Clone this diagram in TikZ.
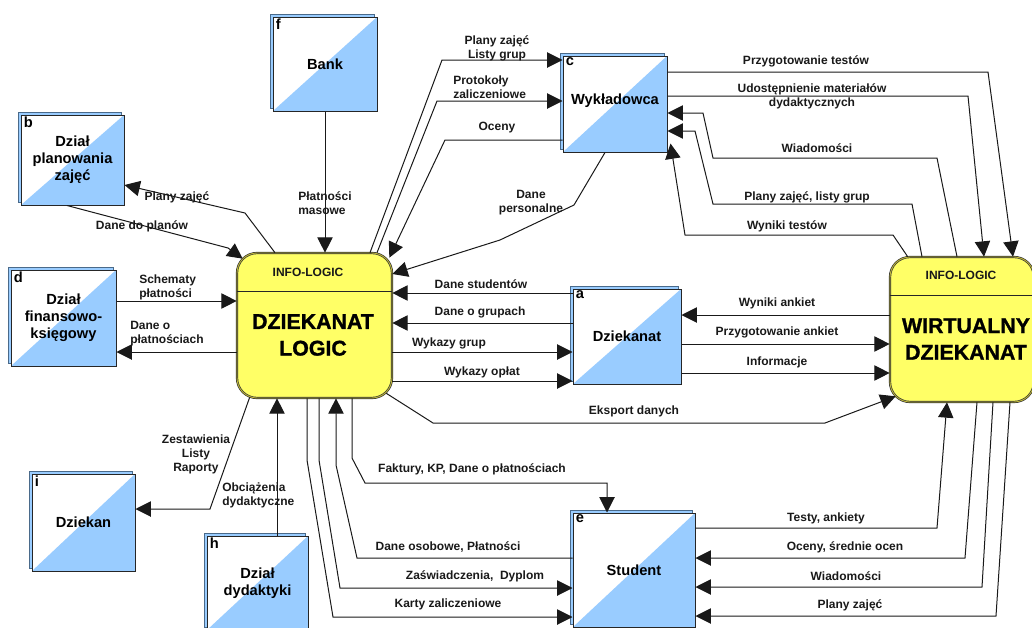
\documentclass[tikz,border=0pt]{standalone}
\usepackage{fontspec}
\setmainfont{Liberation Sans}
\newfontfamily\heavyfont[FakeBold=1.2]{Liberation Sans}
\usetikzlibrary{arrows.meta,calc}
\definecolor{entblue}{HTML}{99CCFF}
\definecolor{procyellow}{HTML}{FFFF66}
\definecolor{backline}{HTML}{4A6A8A}
\tikzset{
  lbl/.style={font=\fontsize{9}{10.5}\selectfont\bfseries, inner sep=0pt, align=center, text=black!90},
  lbll/.style={lbl, align=left, anchor=west},
  flow/.style={draw=black!90, line width=0.75pt, -{Triangle[length=11.5pt,width=11.5pt]}},
  ent/.style={fill=white, draw=black!85, line width=0.75pt, inner sep=0pt,
    font=\fontsize{11}{12.75}\selectfont\bfseries, align=center,
    path picture={\fill[entblue] (path picture bounding box.north east) -- (path picture bounding box.south east) -- (path picture bounding box.south west) -- cycle;}},
  backrect/.style={fill=entblue, draw=backline, line width=0.75pt},
  letterlbl/.style={font=\fontsize{11}{12}\selectfont\bfseries, inner sep=0pt, anchor=north west},
  proc/.style={rounded corners=15pt, fill=procyellow, draw=black!80, double=yellow!70!black, line width=0.5pt, double distance=0.7pt, inner sep=0pt},
  sep/.style={draw=black!85, line width=0.75pt},
  big/.style={font=\heavyfont\bfseries\fontsize{16}{20}\selectfont, align=center, inner sep=0pt},
}
\newcommand\entbox[7]{%
  \path[backrect] ({#2-#4/2-3},{#3-#5/2-3}) rectangle ({#2+#4/2-3},{#3+#5/2-3});
  \node[ent, minimum width=#4*0.75pt, minimum height=#5*0.75pt] (#1) at (#2,#3) {#7};
  \node[letterlbl] (#1-letter) at ($(#1.north west)+(3,2)$) {#6};
}
\begin{document}
\begin{tikzpicture}[x=0.75pt,y=-0.75pt]
\useasboundingbox (0,0) rectangle (1032,628);

% processes
\node[proc, minimum width=155*0.75pt, minimum height=145*0.75pt] (dl) at (314.5,325.5) {};
\draw[sep] ($(dl.north west)!(0,291)!(dl.south west)$) -- ($(dl.north east)!(0,291)!(dl.south east)$);
\node[lbl] (dlt) at (308,272) {INFO-LOGIC};
\node[big] (dln) at (313,335) {DZIEKANAT\\LOGIC};

\node[proc, minimum width=144*0.75pt, minimum height=145*0.75pt] (wd) at (962,329.5) {};
\draw[sep] ($(wd.north west)!(0,295)!(wd.south west)$) -- ($(wd.north east)!(0,295)!(wd.south east)$);
\node[lbl] (wdt) at (961,275) {INFO-LOGIC};
\node[big] (wdn) at (966,339) {WIRTUALNY\\DZIEKANAT};

% external entities
\entbox{b}{72.5}{160}{103}{90}{b}{Dział\\planowania\\zajęć}
\entbox{d}{63.5}{318}{105}{96}{d}{Dział\\finansowo-\\księgowy}
\entbox{f}{325}{64}{104}{94}{f}{Bank}
\entbox{c}{615}{104}{104}{96}{c}{Wykładowca\\[-5pt]\mbox{}}
\entbox{a}{627}{336.5}{108}{95}{a}{Dziekanat}
\entbox{e}{634}{570}{122}{114}{e}{Student}
\entbox{i}{83.5}{522.5}{103}{97}{i}{Dziekan}
\entbox{h}{257.5}{583}{101}{94}{h}{Dział\\dydaktyki}

% connectors: left side
\draw[flow] ($(dl.north west)!(275,0)!(dl.north east)$) -- (245,213) -- ($(b.north east)!(0,185)!(b.south east)$);
\draw[flow] ($(b.south west)!(67,0)!(b.south east)$) -- (228,248) -- ($(dl.north west)+(6,6)$);
\draw[flow] (f.south) -- (f.south |- dl.north);
\draw[flow] ($(d.north east)!(0,301)!(d.south east)$) -- ($(dl.north west)!(0,301)!(dl.south west)$);
\draw[flow] ($(dl.north west)!(0,352)!(dl.south west)$) -- ($(d.north east)!(0,352)!(d.south east)$);
\draw[flow] ($(dl.south west)+(13,-1)$) -- (210,509) -- ($(i.north east)!(0,509)!(i.south east)$);
\draw[flow] ($(h.north west)!(277,0)!(h.north east)$) -- ($(dl.south west)!(277,0)!(dl.south east)$);

% DL <-> Student
\draw[flow] ($(dl.south west)!(307,0)!(dl.south east)$) -- (307,460) -- (333,617) -- ($(e.north west)!(0,617)!(e.south west)$);
\draw[flow] ($(dl.south west)!(319,0)!(dl.south east)$) -- (319,460) -- (340,588) -- ($(e.north west)!(0,588)!(e.south west)$);
\draw[flow] ($(e.north west)!(0,558)!(e.south west)$) -- (357,558) -- (336,465) -- ($(dl.south west)!(336,0)!(dl.south east)$);
\draw[flow] ($(dl.south west)!(352,0)!(dl.south east)$) -- (352,458) -- (365,483) -- (607,483) -- ($(e.north west)!(607,0)!(e.north east)$);

% DL -> WD
\draw[flow] ($(dl.south east)+(-6,-5)$) -- (433,423) -- (825,423) -- ($(wd.south west)+(6,-6)$);

% DL <-> Dziekanat
\draw[flow] ($(a.north west)!(0,293)!(a.south west)$) -- ($(dl.north east)!(0,293)!(dl.south east)$);
\draw[flow] ($(a.north west)!(0,323)!(a.south west)$) -- ($(dl.north east)!(0,323)!(dl.south east)$);
\draw[flow] ($(dl.north east)!(0,352)!(dl.south east)$) -- ($(a.north west)!(0,352)!(a.south west)$);
\draw[flow] ($(dl.north east)!(0,381)!(dl.south east)$) -- ($(a.north west)!(0,381)!(a.south west)$);

% WD <-> Dziekanat
\draw[flow] ($(wd.north west)!(0,315)!(wd.south west)$) -- ($(a.north east)!(0,315)!(a.south east)$);
\draw[flow] ($(a.north east)!(0,344)!(a.south east)$) -- ($(wd.north west)!(0,344)!(wd.south west)$);
\draw[flow] ($(a.north east)!(0,373)!(a.south east)$) -- ($(wd.north west)!(0,373)!(wd.south west)$);

% DL <-> Wykladowca
\draw[flow] ($(dl.north west)!(370,0)!(dl.north east)$) -- (442,60) -- ($(c.north west)!(0,60)!(c.south west)$);
\draw[flow] ($(dl.north west)!(377,0)!(dl.north east)$) -- (437,101) -- ($(c.north west)!(0,101)!(c.south west)$);
\draw[flow] ($(c.north west)!(0,140)!(c.south west)$) -- (445,140) -- ($(dl.north east)+(-3,5)$);
\draw[flow] ($(c.south west)!(605,0)!(c.south east)$) -- (574,205) -- (500,240) -- ($(dl.north east)!(0,274)!(dl.south east)$);

% Wykladowca <-> WD
\draw[flow] ($(c.north east)!(0,72)!(c.south east)$) -- (988,72) -- ($(wd.north west)!(1013,0)!(wd.north east)$);
\draw[flow] ($(c.north east)!(0,96)!(c.south east)$) -- (968,96) -- ($(wd.north west)!(984,0)!(wd.north east)$);
\draw[flow] ($(wd.north west)!(957,0)!(wd.north east)$) -- (937,158) -- (713,158) -- (703,113) -- ($(c.north east)!(0,113)!(c.south east)$);
\draw[flow] ($(wd.north west)!(922,0)!(wd.north east)$) -- (912,204) -- (713,204) -- (695,131) -- ($(c.north east)!(0,131)!(c.south east)$);
\draw[flow] ($(wd.north west)+(18,0)$) -- (893,235) -- (685,235) -- ($(c.south east)+(3,-9)$);

% Student <-> WD
\draw[flow] ($(e.north east)!(0,528)!(e.south east)$) -- (937,528) -- ($(wd.south west)!(947,0)!(wd.south east)$);
\draw[flow] ($(wd.south west)!(977,0)!(wd.south east)$) -- (965,558) -- ($(e.north east)!(0,558)!(e.south east)$);
\draw[flow] ($(wd.south west)!(993,0)!(wd.south east)$) -- (982,587) -- ($(e.north east)!(0,587)!(e.south east)$);
\draw[flow] ($(wd.south west)!(1010,0)!(wd.south east)$) -- (996,616) -- ($(e.north east)!(0,616)!(e.south east)$);

% labels
\node[lbl] (l1) at (177,197) {Plany zajęć};
\node[lbl] (l2) at (142,226) {Dane do planów};
\node[lbll] (l3) at (298,203) {Płatności\\masowe};
\node[lbll] (l4) at (139,287) {Schematy\\płatności};
\node[lbll] (l5) at (130,334) {Dane o\\płatnościach};
\node[lbl] (l6) at (196,454) {Zestawienia\\Listy\\Raporty};
\node[lbll] (l7) at (222,495) {Obciążenia\\dydaktyczne};
\node[lbl] (l8) at (448,604) {Karty zaliczeniowe};
\node[lbl] (l9) at (475,576) {Zaświadczenia,~~Dyplom};
\node[lbl] (l10) at (448,547) {Dane osobowe, Płatności};
\node[lbl] (l11) at (472,469) {Faktury, KP, Dane o płatnościach};
\node[lbl] (l12) at (634,411) {Eksport danych};
\node[lbl] (l13) at (481,284) {Dane studentów};
\node[lbl] (l14) at (480,312) {Dane o grupach};
\node[lbl] (l15) at (449,343) {Wykazy grup};
\node[lbl] (l16) at (482,372) {Wykazy opłat};
\node[lbl] (l17) at (777,303) {Wyniki ankiet};
\node[lbl] (l18) at (777,332) {Przygotowanie ankiet};
\node[lbl] (l19) at (777,362) {Informacje};
\node[lbl] (l20) at (497,48.5) {Plany zajęć\\Listy grup};
\node[lbll] (l21) at (453,87.5) {Protokoły\\zaliczeniowe};
\node[lbl] (l22) at (497,128) {Oceny};
\node[lbl] (l23) at (531,203) {Dane\\personalne};
\node[lbl] (l24) at (806,61) {Przygotowanie testów};
\node[lbl] (l25) at (812,96.5) {Udostępnienie materiałów\\dydaktycznych};
\node[lbl] (l26) at (817,148) {Wiadomości};
\node[lbl] (l27) at (807,197) {Plany zajęć, listy grup};
\node[lbl] (l28) at (787,226) {Wyniki testów};
\node[lbl] (l29) at (826,518) {Testy, ankiety};
\node[lbl] (l30) at (845,547) {Oceny, średnie ocen};
\node[lbl] (l31) at (846,576) {Wiadomości};
\node[lbl] (l32) at (850,605) {Plany zajęć};
\end{tikzpicture}
\end{document}
